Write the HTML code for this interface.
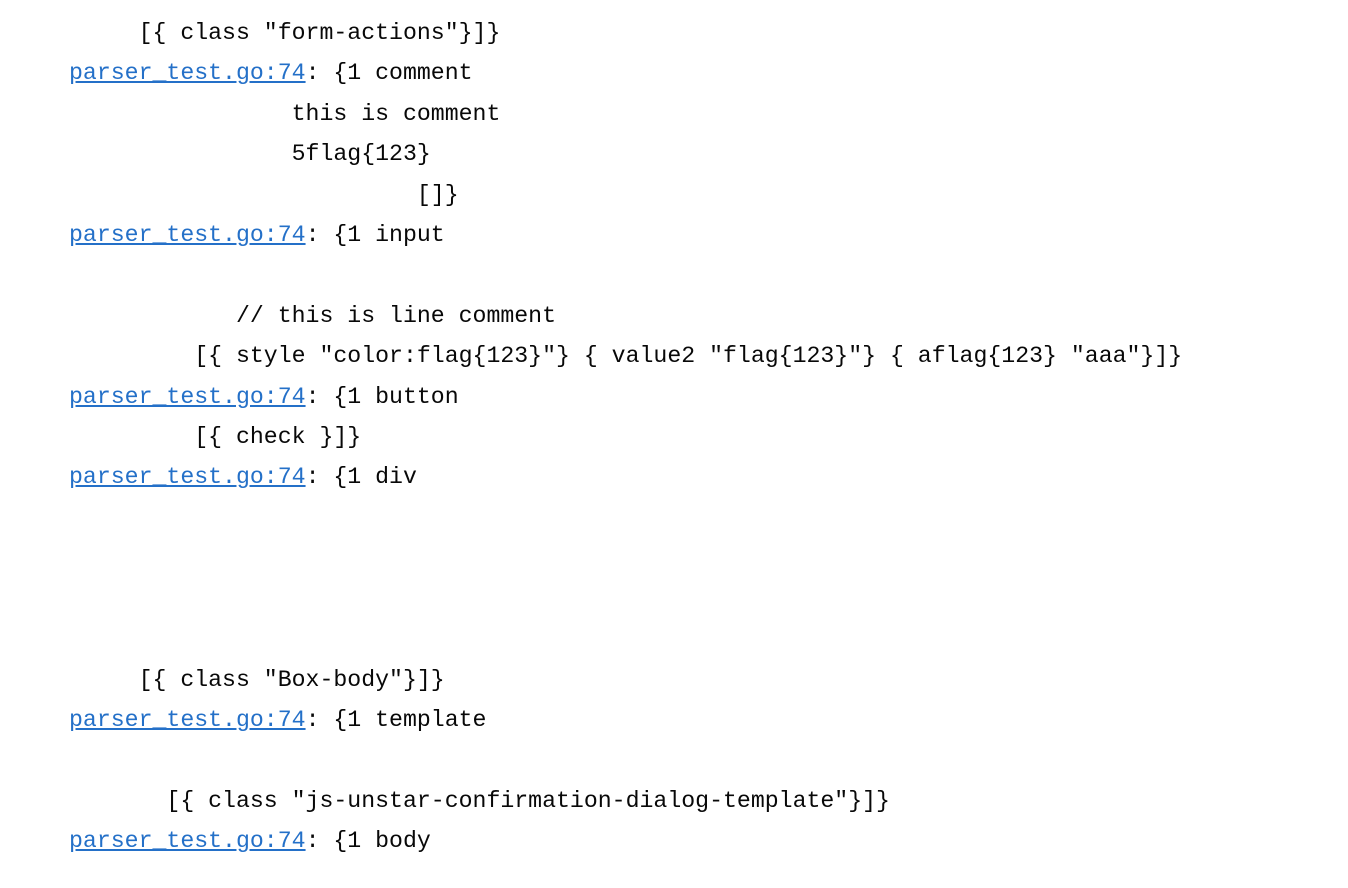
<!DOCTYPE html>
<html><head><meta charset="utf-8"><style>
html,body{margin:0;padding:0;background:#fff;width:1348px;height:888px;overflow:hidden}
pre{position:absolute;left:69px;top:13px;margin:0;font-family:"Liberation Mono","DejaVu Sans Mono",monospace;font-size:23.2px;line-height:40.4px;color:#080808;white-space:pre}
a{color:#2470c8;text-decoration:underline}
</style></head><body>
<pre>     [{ class "form-actions"}]}
<a>parser_test.go:74</a>: {1 comment
                this is comment
                5flag{123}
                         []}
<a>parser_test.go:74</a>: {1 input

            // this is line comment
         [{ style "color:flag{123}"} { value2 "flag{123}"} { aflag{123} "aaa"}]}
<a>parser_test.go:74</a>: {1 button
         [{ check }]}
<a>parser_test.go:74</a>: {1 div




     [{ class "Box-body"}]}
<a>parser_test.go:74</a>: {1 template

       [{ class "js-unstar-confirmation-dialog-template"}]}
<a>parser_test.go:74</a>: {1 body</pre>
</body></html>
